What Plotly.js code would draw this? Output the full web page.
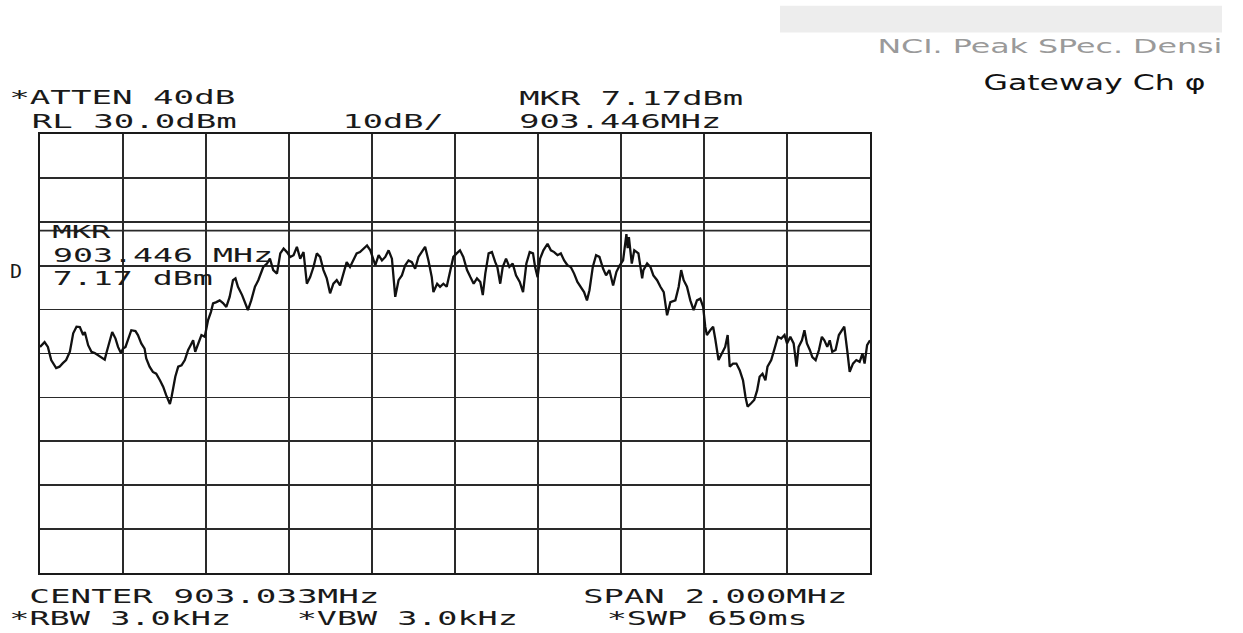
<!DOCTYPE html>
<html><head><meta charset="utf-8">
<script src="https://cdn.plot.ly/plotly-3.0.1.min.js"></script>
<style>html,body{margin:0;padding:0;background:#fff;}</style>
</head><body><div id="chart" style="width:1243px;height:633px;"></div>
<script>
// ---- instrument settings ----
const centerMHz = 903.033;
const spanMHz = 2.000;
const refLevelDbm = 30.0;
const dbPerDiv = 10;
const attenDb = 40;
const rbwKHz = 3.0;
const vbwKHz = 3.0;
const sweepMs = 650;
const markerFreqMHz = 903.446;
const markerLevelDbm = 7.17;
const displayLineDbm = 8.0;

// ---- trace ----
const freqMHz = [
902.033,902.044,902.052,902.060,902.072,902.080,902.088,902.096,902.105,902.113,
902.121,902.129,902.137,902.141,902.149,902.157,902.165,902.173,902.181,902.189,
902.193,902.201,902.207,902.215,902.221,902.228,902.233,902.239,902.246,902.253,
902.263,902.269,902.277,902.285,902.289,902.297,902.305,902.313,902.322,902.330,
902.337,902.346,902.350,902.354,902.359,902.366,902.374,902.382,902.390,902.396,
902.402,902.407,902.414,902.422,902.430,902.434,902.438,902.445,902.450,902.458,
902.466,902.474,902.482,902.490,902.498,902.504,902.510,902.520,902.528,902.534,
902.542,902.551,902.559,
902.571,902.580,902.587,902.595,902.604,902.612,902.620,902.628,902.636,902.644,
902.652,902.660,902.668,902.676,902.684,902.692,902.700,902.708,902.716,902.724,
902.732,902.740,902.748,902.756,902.764,902.772,902.780,902.788,902.796,902.804,
902.812,902.821,902.829,902.835,902.841,902.849,902.857,902.865,902.873,902.881,
902.889,902.897,902.905,902.913,902.921,902.929,902.937,902.945,902.953,902.961,
902.969,902.977,902.981,902.990,902.997,903.005,903.013,903.021,903.029,903.037,
903.045,
903.053,903.062,903.070,903.078,903.086,903.094,903.100,903.106,903.114,903.122,
903.130,903.135,903.142,903.148,903.156,903.164,903.172,903.180,903.189,903.197,
903.205,903.213,903.221,903.226,903.232,903.238,903.246,903.256,903.264,903.272,
903.280,903.288,903.296,903.304,903.312,903.320,903.328,903.336,903.344,903.351,
903.357,903.365,903.373,903.381,903.390,903.397,903.405,903.414,903.422,903.430,
903.438,903.446,903.449,903.452,903.455,903.459,903.465,903.475,903.484,903.487,
903.496,903.504,903.511,903.520,903.528,903.536,903.544,903.552,903.564,903.572,
903.578,903.584,903.592,903.600,903.608,903.616,903.624,903.631,903.636,903.640,
903.648,903.655,903.660,903.668,903.676,903.684,903.690,903.695,903.703,903.711,
903.719,903.727,903.733,903.738,903.746,903.754,903.761,903.767,903.774,903.781,
903.786,903.795,903.803,903.811,903.819,903.827,903.833,903.841,903.849,903.856,
903.861,903.869,903.875,903.881,903.888,903.894,903.902,903.910,903.917,903.923,
903.930,903.936,903.942,903.950,903.958,903.966,903.971,903.978,903.984,903.992,
904.000,904.008,904.015,904.020,904.026,904.033
];
const levelDbm = [
-18.5,-17.4,-18.5,-21.5,-23.3,-23.0,-22.2,-21.5,-19.6,-15.4,
-13.9,-14.0,-15.8,-15.1,-18.1,-19.6,-19.9,-20.4,-20.8,-21.4,
-19.9,-17.0,-15.1,-16.6,-18.5,-19.9,-18.9,-18.5,-16.6,-14.7,
-14.9,-15.8,-17.7,-18.9,-21.1,-23.0,-24.2,-24.6,-26.1,-27.6,
-29.5,-31.5,-29.9,-27.6,-25.3,-23.0,-22.7,-21.5,-19.2,-18.1,
-17.0,-19.6,-17.7,-15.8,-16.2,-13.9,-12.4,-10.5,-8.6,-8.3,
-7.9,-8.5,-9.4,-7.1,-3.3,-2.9,-4.8,-6.7,-8.6,-10.1,
-7.9,-4.8,-3.3,
-0.3,0.5,1.6,-1.0,-1.8,2.8,3.9,3.1,2.0,2.4,
4.3,1.6,3.1,-4.1,-2.6,-0.3,2.8,2.0,-1.0,-2.9,
-6.3,-4.1,-3.3,-4.5,-1.8,0.8,-0.3,1.2,2.8,3.1,
3.9,4.6,3.5,2.0,0.1,2.4,1.2,2.0,3.5,1.6,
-7.1,-3.3,-2.2,0.1,1.2,0.8,-0.7,2.0,3.1,4.3,
1.2,-2.6,-6.0,-4.1,-4.8,-4.1,-4.8,-1.0,2.0,2.8,
3.5,
2.0,-1.0,-2.6,-4.1,-2.9,-3.7,-6.7,-1.8,2.8,3.1,
0.8,-0.3,-4.1,-0.3,1.6,-0.3,0.5,-2.2,-3.7,-6.0,
0.5,3.1,2.8,-0.3,-2.6,1.6,3.5,5.0,3.5,3.1,
2.4,2.8,1.2,0.1,-0.3,-1.8,-3.7,-4.8,-6.0,-7.9,
-5.6,-0.3,2.4,2.0,-0.7,-2.2,-1.0,-4.5,-1.4,0.1,
1.2,7.17,4.0,6.5,3.5,0.5,3.5,2.8,-2.9,-1.0,
0.5,-0.3,-2.2,-3.3,-4.8,-6.0,-11.3,-8.3,-7.9,-4.8,
-1.0,-3.3,-4.8,-7.9,-10.1,-7.9,-7.5,-9.4,-13.9,-15.8,
-14.7,-13.9,-16.6,-21.5,-20.0,-18.5,-15.8,-23.0,-22.3,-22.3,
-23.8,-26.1,-29.9,-32.1,-31.4,-30.6,-28.4,-25.3,-24.6,-26.1,
-23.0,-21.5,-18.9,-16.2,-16.6,-15.8,-17.7,-16.2,-17.7,-23.0,
-18.5,-17.0,-14.7,-17.7,-19.2,-20.8,-21.5,-19.2,-16.2,-17.0,
-18.5,-17.0,-19.6,-19.2,-15.8,-14.7,-13.9,-19.2,-24.2,-22.3,
-21.5,-21.9,-20.0,-22.3,-18.1,-17.0
];

// ---- layout geometry (pixels) ----
const W = 1243, H = 633;
const PL = 40, PR = 870, PT = 133.5, PB = 573;
const px = x => (x - PL) / (PR - PL);
const py = y => (PB - y) / (PB - PT);

const startMHz = centerMHz - spanMHz / 2;
const stopMHz = centerMHz + spanMHz / 2;

const mono = 'DejaVu Sans Mono, Liberation Mono, monospace';
const txtColor = '#1a1a1a';
const labels = [
  // text, centerX, centerY, width(px), font size
  ['*ATTEN ' + attenDb + 'dB', 122, 96, 226, 20],
  ['RL ' + refLevelDbm.toFixed(1) + 'dBm', 134, 120, 205, 20],
  [dbPerDiv + 'dB/', 393, 120, 101, 20],
  ['MKR ' + markerLevelDbm.toFixed(2) + 'dBm', 631, 97, 224, 20],
  [markerFreqMHz.toFixed(3) + 'MHz', 620, 120, 202, 20],
  ['MKR', 81, 232, 58, 17],
  [markerFreqMHz.toFixed(3) + ' MHz', 163, 255, 220, 19],
  [markerLevelDbm.toFixed(2) + ' dBm', 133, 278, 160, 19],
  ['D', 16, 271, 0, 20],
  ['CENTER ' + centerMHz.toFixed(3) + 'MHz', 204, 596, 350, 20],
  ['SPAN ' + spanMHz.toFixed(3) + 'MHz', 715, 596, 264, 20],
  ['*RBW ' + rbwKHz.toFixed(1) + 'kHz', 120, 618, 222, 20],
  ['*VBW ' + vbwKHz.toFixed(1) + 'kHz', 407, 618, 221, 20],
  ['*SWP ' + sweepMs + 'ms', 707, 618, 201, 20]
];
const annotations = labels.map(l => ({
  text: l[0], xref: 'paper', yref: 'paper', x: px(l[1]), y: py(l[2]),
  xanchor: 'center', yanchor: 'middle', showarrow: false,
  font: {family: mono, size: l[4], color: txtColor}
}));
const widths = labels.map(l => l[3]);
// handwritten notes
annotations.push({text: 'NCI. Peak SPec. Densi', xref: 'paper', yref: 'paper',
  x: px(1050), y: py(45), xanchor: 'center', yanchor: 'middle', showarrow: false,
  font: {family: 'DejaVu Sans, sans-serif', size: 20, color: '#9a9a9a'}});
widths.push(345);
annotations.push({text: 'Gateway Ch φ', xref: 'paper', yref: 'paper',
  x: px(1094), y: py(82), xanchor: 'center', yanchor: 'middle', showarrow: false,
  font: {family: 'DejaVu Sans, sans-serif', size: 22, color: '#111'}});
widths.push(222);

const trace = {
  x: freqMHz, y: levelDbm, type: 'scatter', mode: 'lines',
  line: {color: '#111', width: 2.3}, hoverinfo: 'skip'
};

const axisCommon = {
  showticklabels: false, ticks: '', zeroline: false,
  showgrid: true, gridcolor: '#2a2a2a', gridwidth: 1.7,
  showline: true, mirror: true, linecolor: '#1a1a1a', linewidth: 2.2
};

const layout = {
  width: W, height: H,
  margin: {l: PL, r: W - PR, t: PT, b: H - PB, pad: 0},
  paper_bgcolor: '#fff', plot_bgcolor: '#fff',
  showlegend: false,
  xaxis: Object.assign({}, axisCommon, {range: [startMHz, stopMHz], tick0: startMHz, dtick: spanMHz / 10}),
  yaxis: Object.assign({}, axisCommon, {range: [refLevelDbm - 10 * dbPerDiv, refLevelDbm], tick0: refLevelDbm, dtick: dbPerDiv}),
  shapes: [
    {type: 'line', xref: 'paper', x0: 0, x1: 1, yref: 'y', y0: displayLineDbm, y1: displayLineDbm,
     line: {color: '#2a2a2a', width: 1.6}, layer: 'below'},
    {type: 'rect', xref: 'paper', yref: 'paper', x0: px(780), x1: px(1222), y0: py(32), y1: py(5),
     fillcolor: '#ededed', line: {width: 0}, layer: 'below'}
  ],
  annotations: annotations
};

Plotly.newPlot('chart', [trace], layout, {staticPlot: true, displayModeBar: false}).then(() => {
  document.querySelectorAll('g.annotation').forEach(g => {
    const i = +g.getAttribute('data-index');
    const w = widths[i];
    const t = g.querySelector('text.annotation-text');
    if (t && w > 0) {
      t.setAttribute('textLength', w);
      t.setAttribute('lengthAdjust', 'spacingAndGlyphs');
    }
  });
});
</script>
</body></html>
